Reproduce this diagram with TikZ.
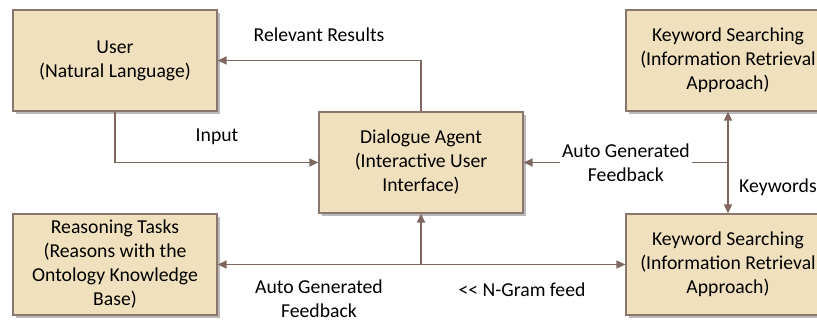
\documentclass[tikz,border=0pt]{standalone}
\usepackage{fontspec}
\setmainfont{Carlito}
\usetikzlibrary{shadows,arrows.meta}
\definecolor{boxfill}{RGB}{240,224,190}
\definecolor{boxline}{RGB}{138,118,108}
\definecolor{wire}{RGB}{125,103,95}
\tikzset{
  blk/.style={draw=boxline, line width=1.3pt, fill=boxfill,
    minimum width=204pt, minimum height=101pt, inner sep=0pt,
    align=center, text=black,
    drop shadow={shadow xshift=3pt, shadow yshift=-3pt, fill=black!60, opacity=0.45}},
  link/.style={draw=wire, line width=1.4pt,
    arrows={-Triangle[length=9pt,width=8pt]}},
  twoway/.style={draw=wire, line width=1.4pt,
    arrows={Triangle[length=9pt,width=8pt]-Triangle[length=9pt,width=8pt]}},
  lbl/.style={align=center, text=black, inner sep=1pt}
}
\begin{document}
\begin{tikzpicture}[x=1pt, y=-1pt, font=\fontsize{19.7}{24}\selectfont]
\clip (0,0) rectangle (817,322);
\fill[white] (0,0) rectangle (817,322);

% blocks
\node[blk] (user) at (115,60.5) {User\\(Natural Language)};
\node[blk] (agent) at (421,162.5) {Dialogue Agent\\(Interactive User\\Interface)};
\node[blk] (kwtop) at (728,60.5) {Keyword Searching\\(Information Retrieval\\Approach)};
\node[blk] (kwbot) at (728,264.5) {Keyword Searching\\(Information Retrieval\\Approach)};
\node[blk] (reason) at (115,264.5) {Reasoning Tasks\\(Reasons with the\\Ontology Knowledge\\Base)};

% agent to user
\draw[link] (agent.north) |- (user.east);
\node[lbl] (relres) at (319,35) {Relevant Results};

% user to agent
\draw[link] (user.south) |- (agent.west);
\node[lbl] (input) at (217,137) {Input};

% keyword exchange between the two searchers
\draw[twoway] (kwtop.south) -- (kwbot.north);
\node[lbl, anchor=west] (kw) at (738,187) {Keywords};

% feedback from the searchers to the agent
\coordinate (fbstart) at (kwtop.south |- agent.east);
\draw[link] (fbstart) -- (agent.east)
  node[lbl, midway, fill=white, inner sep=2pt] (fbright) {Auto Generated\\Feedback};

% lower bus
\draw[twoway] (reason.east) -- (kwbot.west);
\coordinate (bus) at (agent.south |- reason.east);
\draw[link] (bus) -- (agent.south);
\node[lbl] (fbleft) at (319,299) {Auto Generated\\Feedback};
\node[lbl] (ngram) at (522,290) {{<}{<} N-Gram feed};
\end{tikzpicture}
\end{document}
